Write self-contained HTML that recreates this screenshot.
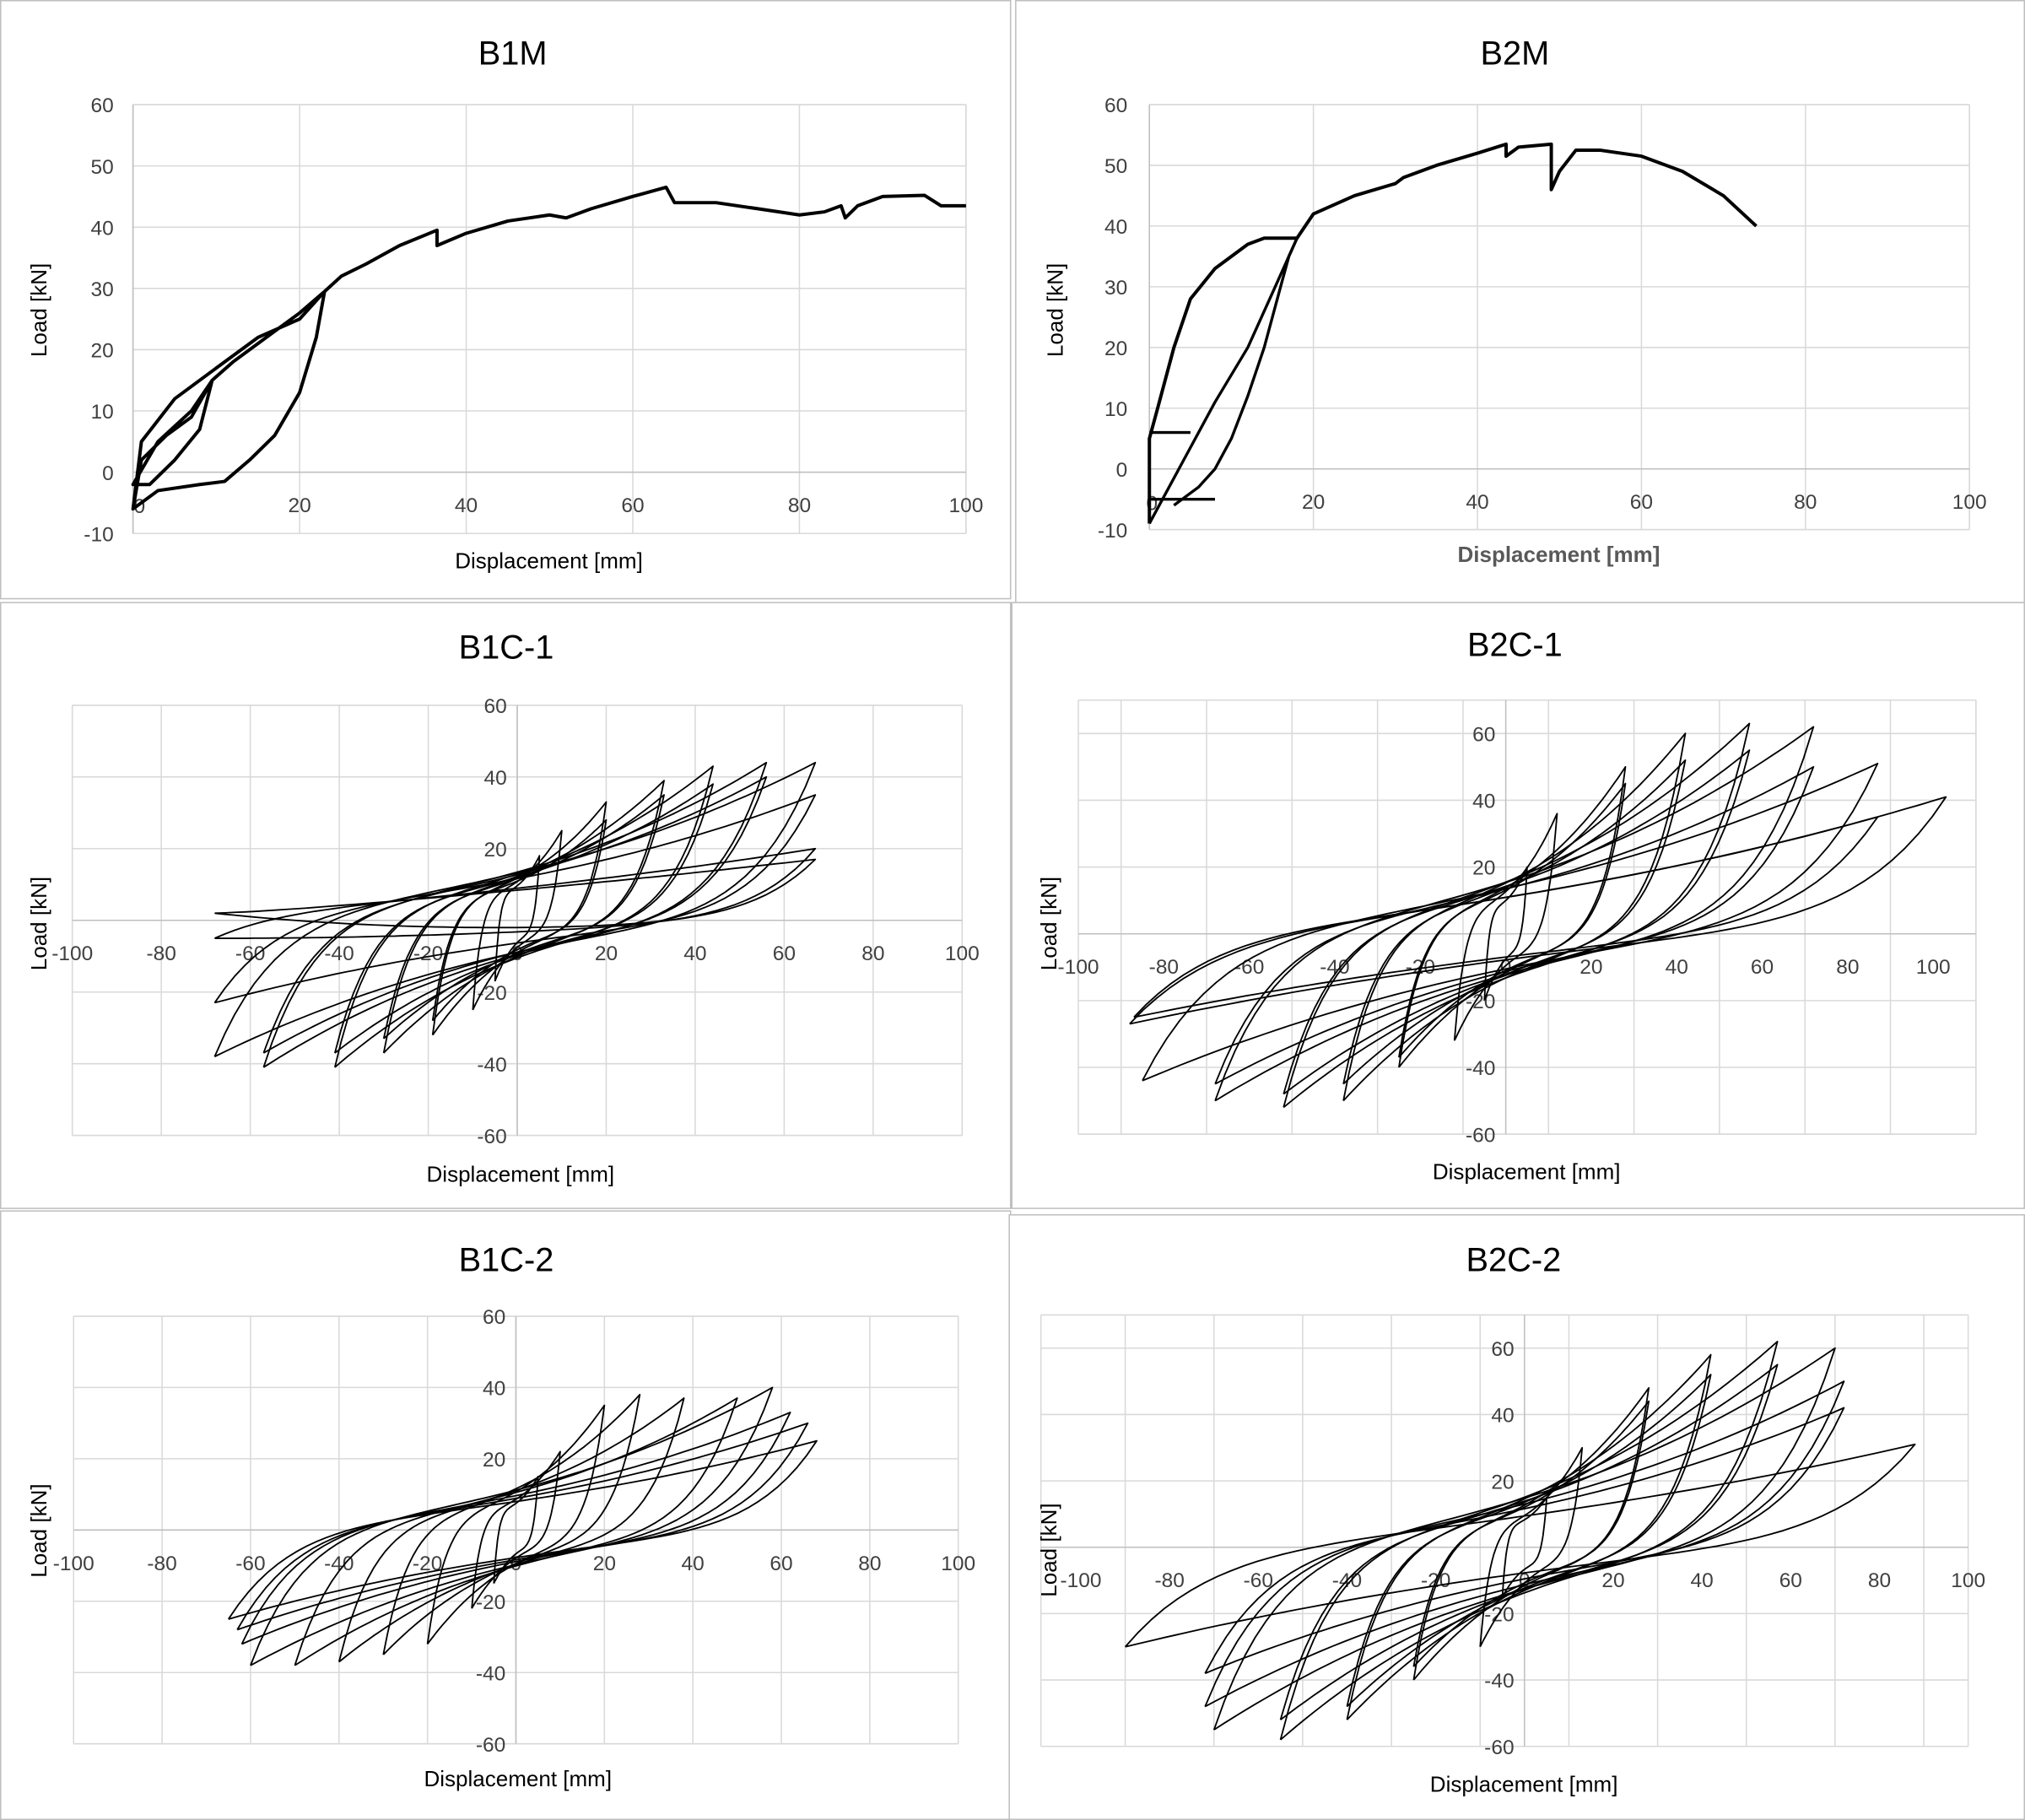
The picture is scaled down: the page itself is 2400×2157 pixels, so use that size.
<!DOCTYPE html>
<html><head><meta charset="utf-8"><style>
html,body{margin:0;padding:0;background:#fff;}
svg{display:block;font-family:"Liberation Sans",sans-serif;}
</style></head><body>
<svg id="fig" width="2400" height="2157" viewBox="0 0 1568 1409" preserveAspectRatio="none" xmlns="http://www.w3.org/2000/svg"></svg>
<script>
// ---- Monotonic data ----
const b1mDisp=[0,1,4,7,9.5,7,3,0,2,5,8,9.5,12,16,20,23,20,15,10,5,1,0,3,8,11,14,17,20,22,23,25,28,32,36.5,36.5,40,45,50,52,55,60,64,65,70,75,80,83,85,85.5,87,90,95,97,100];
const b1mLoad=[-6,2,6,9,15,10,5,-2,-2,2,7,15,18,22,26,29.5,25,22,17,12,5,-6,-3,-2,-1.5,2,6,13,22,29.5,32,34,37,39.5,37,39,41,42,41.5,43,45,46.5,44,44,43,42,42.5,43.5,41.5,43.5,45,45.2,43.5,43.5];
const b2mDisp=[0,0,1,3,5,8,12,14,18,20,25,30,31,35,40,43.5,43.5,45,49,49,50,52,55,60,65,70,74];
const b2mLoad=[-9,5,10,20,28,33,37,38,38,42,45,47,48,50,52,53.5,51.5,53,53.5,46,49,52.5,52.5,51.5,49,45,40];
const b2mLineDisp=[0,4,8,12,15,18];
const b2mLineLoad=[-9,1,11,20,29,38];
const b2mCurveDisp=[3,6,8,10,12,14,16,17,18];
const b2mCurveLoad=[-6,-3,0,5,12,20,30,35,38];
// ---- Cyclic data: [posDisp,posLoad,negDisp,negLoad] per cycle ----
const b1c1Cycles=[[5,18,-5,-17],[10,25,-10,-25],[20,33,-19,-32],[20,28,-19,-28],[33,39,-30,-37],[33,35,-30,-33],[44,43,-41,-41],[44,38,-41,-37],[56,44,-57,-41],[56,40,-57,-37],[67,44,-68,-38],[67,35,-68,-23],[67,20,-68,-5],[67,17,-68,2]];
const b2c1Cycles=[[5,20,-5,-20],[12,36,-12,-32],[28,50,-25,-40],[28,45,-25,-37],[42,60,-38,-50],[42,52,-38,-45],[57,63,-52,-52],[57,55,-52,-48],[72,62,-68,-50],[72,50,-68,-45],[87,51,-85,-44],[87,35,-87,-25],[103,41,-88,-27]];
const b1c2Cycles=[[5,15,-5,-15],[10,22,-10,-22],[20,35,-20,-32],[28,38,-30,-35],[38,37,-40,-37],[50,37,-50,-38],[58,40,-60,-38],[62,33,-62,-32],[66,30,-63,-28],[68,25,-65,-25]];
const b2c2Cycles=[[5,15,-5,-15],[13,30,-10,-30],[28,48,-25,-40],[28,44,-25,-36],[42,58,-40,-52],[42,52,-40,-48],[57,62,-55,-58],[57,55,-55,-52],[70,60,-70,-55],[72,50,-72,-48],[72,42,-72,-38],[88,31,-90,-30]];

const NS="http://www.w3.org/2000/svg";
const svg=document.getElementById('fig');
function el(tag,attrs,parent,text){const e=document.createElementNS(NS,tag);for(const k in attrs)e.setAttribute(k,attrs[k]);if(text!==undefined)e.textContent=text;(parent||svg).appendChild(e);return e;}

function panel(cfg){
  const g=el('g',{});
  
  
  const b=el('rect',{x:cfg.box[0]+0.5,y:cfg.box[1]+0.5,width:cfg.box[2]-1,height:cfg.box[3]-1,fill:'#fff',stroke:'#bfbfbf','stroke-width':1},g);
  
  const X=v=>cfg.px[0]+(v-cfg.xr[0])/(cfg.xr[1]-cfg.xr[0])*(cfg.px[1]-cfg.px[0]);
  const Y=v=>cfg.py[0]+(v-cfg.yr[0])/(cfg.yr[1]-cfg.yr[0])*(cfg.py[1]-cfg.py[0]);
  const grid=el('g',{stroke:'#d9d9d9','stroke-width':1},g);
  
  for(const v of cfg.xgrid){el('line',{x1:X(v),x2:X(v),y1:Y(cfg.yr[0]),y2:Y(cfg.yr[1])},grid);}
  for(const v of cfg.ygrid){el('line',{x1:X(cfg.xr[0]),x2:X(cfg.xr[1]),y1:Y(v),y2:Y(v)},grid);}
  el('line',{x1:X(cfg.xr[0]),x2:X(cfg.xr[1]),y1:Y(cfg.yr[0]),y2:Y(cfg.yr[0])},grid);
  el('line',{x1:X(cfg.xr[0]),x2:X(cfg.xr[1]),y1:Y(cfg.yr[1]),y2:Y(cfg.yr[1])},grid);
  el('line',{x1:X(cfg.xr[0]),x2:X(cfg.xr[0]),y1:Y(cfg.yr[0]),y2:Y(cfg.yr[1])},grid);
  el('line',{x1:X(cfg.xr[1]),x2:X(cfg.xr[1]),y1:Y(cfg.yr[0]),y2:Y(cfg.yr[1])},grid);
  const ax=el('g',{stroke:'#bfbfbf','stroke-width':1},g);
  el('line',{x1:X(cfg.xr[0]),x2:X(cfg.xr[1]),y1:Y(0),y2:Y(0)},ax);
  el('line',{x1:X(0),x2:X(0),y1:Y(cfg.yr[0]),y2:Y(cfg.yr[1])},ax);
  const t=el('text',{x:cfg.title[0],y:cfg.title[1],'font-size':26,'text-anchor':'middle',fill:'#000'},g,cfg.name);
  
  const yaxisX=cfg.ylabX!==undefined?cfg.ylabX:X(0)-8;
  for(const v of cfg.yticks){const tx=el('text',{x:yaxisX,y:Y(v)+6,'font-size':16,'text-anchor':'end',fill:'#404040'},g,String(v));
    }
  for(const v of cfg.xticks){const tx=el('text',{x:X(v),y:Y(0)+31,'font-size':16,'text-anchor':'middle',fill:'#404040'},g,String(v));
    }
  const xl=el('text',{x:cfg.xlab[0],y:cfg.xlab[1],'font-size':17,'text-anchor':'middle',fill:cfg.xlabColor||'#000','font-weight':cfg.xlabBold?'bold':'normal'},g,'Displacement [mm]');
  
  const yl=el('text',{x:0,y:0,'font-size':17,'text-anchor':'middle',fill:'#000',transform:`translate(${cfg.ylab[0]},${cfg.ylab[1]}) rotate(-90)`},g,'Load [kN]');
  
  return {g,X,Y};
}
function poly(p,xs,ys,w,name){
  const pts=xs.map((x,i)=>p.X(x).toFixed(1)+','+p.Y(ys[i]).toFixed(1)).join(' ');
  const l=el('polyline',{points:pts,fill:'none',stroke:'#000','stroke-width':w,'stroke-linejoin':'round'},p.g);
  
}
function loops(p,cycles,up,lo,name){
  cycles.forEach((c,ci)=>{
    const [dp,fp,dn,fn]=c;const xs=[],ys=[];
    const N=60;
    const Lu=d=>up[0]+up[1]*d, Ll=d=>lo[0]+lo[1]*d;
    for(let i=0;i<=N;i++){const u=i/N;const d=dn+(dp-dn)*u;
      xs.push(d);ys.push(Lu(d)+(fp-Lu(dp))*Math.pow(u,2.5)+(fn-Lu(dn))*Math.pow(1-u,10));}
    for(let i=0;i<=N;i++){const u=1-i/N;const d=dn+(dp-dn)*u;
      xs.push(d);ys.push(Ll(d)+(fn-Ll(dn))*Math.pow(1-u,2.5)+(fp-Ll(dp))*Math.pow(u,10));}
    poly(p,xs,ys,1.2,name+'-cycle-'+(ci+1));
  });
}
const r=(a,b,s)=>{const o=[];for(let v=a;v<=b+1e-9;v+=s)o.push(v);return o;};

// B1M
let p=panel({name:'B1M',box:[0,0,783,464],title:[397,50],xr:[0,100],yr:[-10,60],px:[103,748],py:[413,81],
  xgrid:r(0,100,20),ygrid:r(-10,60,10),xticks:r(20,100,20),yticks:r(-10,60,10),ylabX:88,xlab:[425,440],ylab:[36,240]});
el('text',{x:108,y:397,'font-size':16,'text-anchor':'middle',fill:'#404040'},p.g,'0');
poly(p,b1mDisp,b1mLoad,2.6,'b1m-curve');
// B2M
p=panel({name:'B2M',box:[786,0,782,467],title:[1173,50],xr:[0,100],yr:[-10,60],px:[890,1525],py:[410,81],
  xgrid:r(0,100,20),ygrid:r(-10,60,10),xticks:r(20,100,20),yticks:r(-10,60,10),ylabX:873,xlab:[1207,435],xlabColor:'#595959',xlabBold:true,ylab:[823,240]});
el('text',{x:892,y:395,'font-size':16,'text-anchor':'middle',fill:'#404040'},p.g,'0');
poly(p,b2mDisp,b2mLoad,2.6,'b2m-curve');
poly(p,b2mLineDisp,b2mLineLoad,2.2,'b2m-unload-line');
poly(p,b2mCurveDisp,b2mCurveLoad,2.2,'b2m-reload-curve');
poly(p,[0,5],[6,6],2.2,'b2m-segment-1');
poly(p,[0,8],[-5,-5],2.2,'b2m-segment-2');
// B1C-1
p=panel({name:'B1C-1',box:[0,466,783,470],title:[392,510],xr:[-100,100],yr:[-60,60],px:[56,745],py:[879,546],
  xgrid:r(-100,100,20),ygrid:r(-60,60,20),xticks:r(-100,100,20),yticks:[-60,-40,-20,20,40,60],xlab:[403,915],ylab:[36,715]});
loops(p,b1c1Cycles,[8,0.1],[-4,0.08],'b1c1');
// B2C-1
p=panel({name:'B2C-1',box:[783,466,785,470],title:[1173,508],xr:[-100,110],yr:[-60,70],px:[835,1530],py:[878,542],
  xgrid:r(-90,110,20),ygrid:r(-60,60,20),xticks:r(-100,100,20),yticks:[-60,-40,-20,20,40,60],xlab:[1182,913],ylab:[818,715]});
loops(p,b2c1Cycles,[8,0.12],[-5,0.1],'b2c1');
// B1C-2
p=panel({name:'B1C-2',box:[0,937,783,472],title:[392,984],xr:[-100,100],yr:[-60,60],px:[57,742],py:[1350,1019],
  xgrid:r(-100,100,20),ygrid:r(-60,60,20),xticks:r(-100,100,20),yticks:[-60,-40,-20,20,40,60],xlab:[401,1383],ylab:[36,1185]});
loops(p,b1c2Cycles,[6,0.1],[-5,0.08],'b1c2');
// B2C-2
p=panel({name:'B2C-2',box:[781,940,787,469],title:[1172,984],xr:[-109,100],yr:[-60,70],px:[806,1524],py:[1352,1018],
  xgrid:r(-90,90,20),ygrid:r(-60,60,20),xticks:r(-100,100,20),yticks:[-60,-40,-20,20,40,60],xlab:[1180,1387],ylab:[818,1200]});
loops(p,b2c2Cycles,[7,0.12],[-5,0.1],'b2c2');
</script>
</body></html>
